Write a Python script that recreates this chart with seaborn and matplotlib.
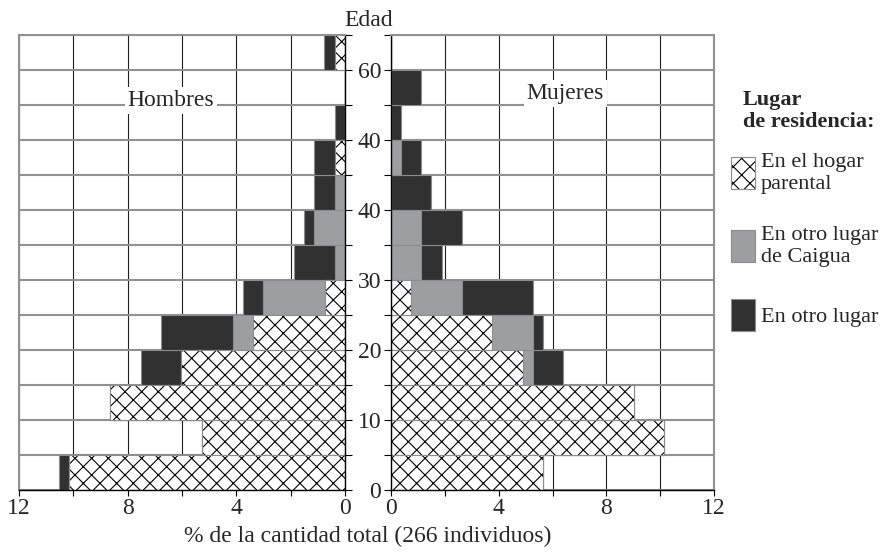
import numpy as np
import matplotlib.pyplot as plt
import seaborn as sns
from matplotlib.patches import Patch
from matplotlib.ticker import MultipleLocator

# grupos de edad (limite inferior, 5 anos)
edad = [0, 5, 10, 15, 20, 25, 30, 35, 40, 45, 50, 55, 60]
edad_ticks = [0, 10, 20, 30, 40, 50, 60]
edad_etiquetas = ['0', '10', '20', '30', '40', '40', '60']

# % de la cantidad total (266 individuos)
hombres_hogar = [10.15, 5.26, 8.65, 6.02, 3.38, 0.75, 0, 0, 0, 0.38, 0, 0, 0.38]
hombres_caigua = [0, 0, 0, 0, 0.75, 2.26, 0.38, 1.13, 0.38, 0, 0, 0, 0]
hombres_otro = [0.38, 0, 0, 1.50, 2.63, 0.75, 1.50, 0.38, 0.75, 0.75, 0.38, 0, 0.38]

mujeres_hogar = [5.64, 10.15, 9.02, 4.89, 3.76, 0.75, 0, 0, 0, 0, 0, 0, 0]
mujeres_caigua = [0, 0, 0, 0.38, 1.50, 1.88, 1.13, 1.13, 0, 0.38, 0, 0, 0]
mujeres_otro = [0, 0, 0, 1.13, 0.38, 2.63, 0.75, 1.50, 1.50, 0.75, 0.38, 1.13, 0]

categorias = ['En el hogar\nparental', 'En otro lugar\nde Caigua', 'En otro lugar']

GRIS = '#9d9ea2'
NEGRO = '#313131'
BORDE = '#8c8c8c'
FS = 17
FS_LEY = 16

sns.set_style('white')
plt.rcParams['font.family'] = ['Liberation Serif', 'DejaVu Serif']
plt.rcParams['hatch.linewidth'] = 0.8

fig = plt.figure(figsize=(8.84, 5.54), dpi=100)
ax_h = fig.add_axes([19 / 884, 64 / 554, 326 / 884, 455 / 554])
ax_m = fig.add_axes([391 / 884, 64 / 554, 323 / 884, 455 / 554])

centros = np.array(edad) + 2.5


def piramide(ax, hogar, caigua, otro):
    hogar = np.array(hogar)
    caigua = np.array(caigua)
    otro = np.array(otro)
    capas = [
        (hogar + caigua + otro, dict(color=NEGRO, edgecolor=BORDE, linewidth=0.8)),
        (hogar + caigua, dict(color=GRIS, edgecolor=BORDE, linewidth=0.8)),
        (hogar, dict(facecolor='white', edgecolor='black', linewidth=0, hatch='xx')),
        (hogar, dict(fill=False, edgecolor=BORDE, linewidth=0.8)),
    ]
    for valores, estilo in capas:
        sns.barplot(x=valores, y=centros, orient='h', native_scale=True, width=1,
                    saturation=1, errorbar=None, ax=ax, **estilo)
    ax.set_ylim(0, 65)
    ax.set_xlabel('')
    ax.set_ylabel('')
    ax.set_axisbelow(True)
    ax.xaxis.set_major_locator(MultipleLocator(4))
    ax.xaxis.set_minor_locator(MultipleLocator(2))
    ax.yaxis.set_minor_locator(MultipleLocator(5))
    ax.set_yticks(edad_ticks)
    ax.grid(True, axis='x', which='both', color='#1e1e1e', linewidth=0.8)
    ax.grid(True, axis='y', which='both', color='#8f9194', linewidth=1.5)
    ax.tick_params(axis='x', which='both', bottom=True, length=4, width=0.8,
                   color='black', labelsize=FS, pad=2)
    for lado in ['top', 'left', 'right']:
        ax.spines[lado].set_color('#8f9194')
        ax.spines[lado].set_linewidth(1.5)
    ax.spines['bottom'].set_color('black')
    ax.spines['bottom'].set_linewidth(1.0)


piramide(ax_h, hombres_hogar, hombres_caigua, hombres_otro)
piramide(ax_m, mujeres_hogar, mujeres_caigua, mujeres_otro)

ax_h.set_xlim(12, 0)
ax_m.set_xlim(0, 12)

ax_h.spines['right'].set_color('black')
ax_h.spines['right'].set_linewidth(1.0)
ax_h.tick_params(axis='y', which='both', left=False, right=True, labelleft=False,
                 labelright=False, length=5, width=0.8, color='black')

ax_m.spines['left'].set_color('black')
ax_m.spines['left'].set_linewidth(1.0)
ax_m.set_yticklabels(edad_etiquetas)
ax_m.tick_params(axis='y', which='both', left=True, length=5, width=0.8,
                 color='black', labelsize=FS, pad=2)

caja = dict(facecolor='white', edgecolor='none', pad=2)
ax_h.text(6.4, 55.6, 'Hombres', ha='center', va='center', fontsize=FS, bbox=caja, zorder=5)
ax_m.text(6.47, 56.6, 'Mujeres', ha='center', va='center', fontsize=FS, bbox=caja, zorder=5)

fig.text(369 / 884, 1 - 21 / 554, 'Edad', ha='center', va='center', fontsize=FS)
fig.text(368 / 884, 1 - 536 / 554, '% de la cantidad total (266 individuos)',
         ha='center', va='center', fontsize=FS)

fig.text(743 / 884, 1 - 90 / 554, 'Lugar\nde residencia:', ha='left', va='top',
         fontsize=FS_LEY, fontweight='bold', linespacing=1.15)

handles = [
    (Patch(facecolor='white', edgecolor='black', linewidth=0, hatch='xx'),
     Patch(fill=False, edgecolor=BORDE, linewidth=0.8)),
    Patch(facecolor=GRIS, edgecolor=BORDE, linewidth=0.8),
    Patch(facecolor=NEGRO, edgecolor=BORDE, linewidth=0.8),
]
fig.legend(handles, categorias, loc='upper left', bbox_to_anchor=(731 / 884, 1 - 153 / 554),
           frameon=False, fontsize=FS_LEY, handlelength=1.1, handleheight=1.85,
           handletextpad=0.25, labelspacing=1.45, borderpad=0, borderaxespad=0)

fig.savefig('out.png', dpi=100)
